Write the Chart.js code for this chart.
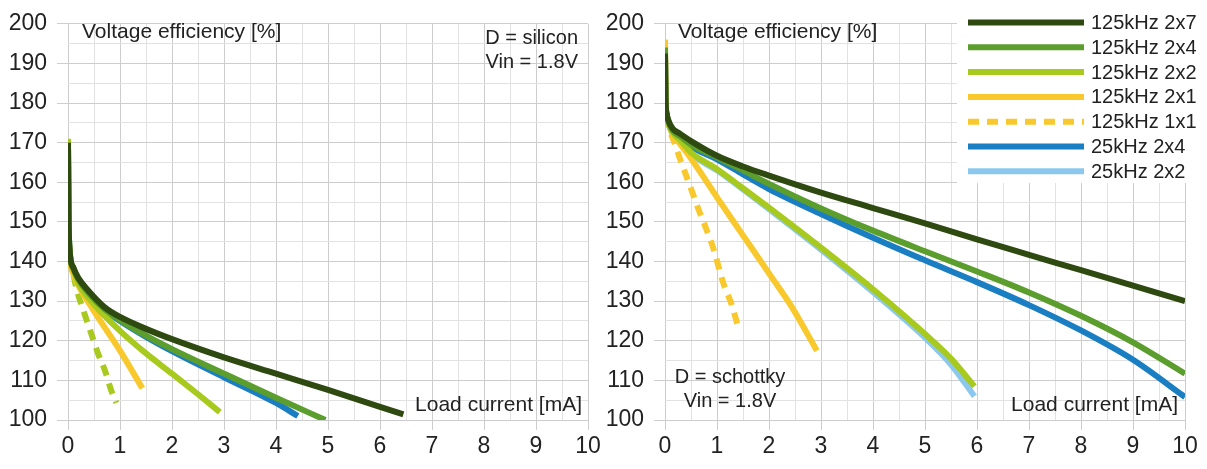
<!DOCTYPE html>
<html>
<head>
<meta charset="utf-8">
<script src="https://cdn.jsdelivr.net/npm/chart.js@4.4.0/dist/chart.umd.min.js"></script>
<style>
  body { margin: 0; background: #fff; width: 1207px; height: 469px; overflow: hidden; position: relative; }
  canvas { position: absolute; top: 0; }
  #siliconChart { left: 0; }
  #schottkyChart { left: 600px; }
</style>
</head>
<body>
<canvas id="siliconChart" width="607" height="469"></canvas>
<canvas id="schottkyChart" width="607" height="469"></canvas>
<script>
// Series names (legend order)
const seriesNames = ['125kHz 2x7', '125kHz 2x4', '125kHz 2x2', '125kHz 2x1', '125kHz 1x1', '25kHz 2x4', '25kHz 2x2'];

// ---- D = silicon, Vin = 1.8V (left chart) ----
const siX_2x7 = [0, 0.01, 0.03, 0.1, 0.2, 0.4, 0.7, 1, 1.5, 2, 3, 4, 5, 6, 6.45];
const siY_2x7 = [170, 152, 143, 138.5, 135.8, 132.5, 128.5, 126, 123, 120.4, 115.8, 111.7, 107.6, 103.3, 101.4];
const siX_2x4 = [0, 0.01, 0.03, 0.1, 0.2, 0.4, 0.7, 1, 1.5, 2, 3, 4, 4.95];
const siY_2x4 = [170, 152, 143, 138.5, 135.5, 132, 128, 125.2, 121.3, 117.9, 111.7, 105.6, 100];
const siX_2x2 = [0, 0.01, 0.03, 0.1, 0.2, 0.5, 1, 1.5, 2, 2.5, 2.92];
const siY_2x2 = [171, 152, 142.5, 138, 134.5, 129.2, 122.5, 116.8, 111.7, 106.5, 102];
const siX_2x1 = [0, 0.01, 0.03, 0.1, 0.2, 0.5, 0.75, 1, 1.43];
const siY_2x1 = [170, 151, 142, 137, 134, 127.5, 122.5, 117.5, 108];
const siX_1x1 = [0, 0.01, 0.03, 0.1, 0.16, 0.32, 0.45, 0.58, 0.71, 0.83, 0.93];
const siY_1x1 = [170, 151, 142, 137, 133.3, 126.7, 121.7, 116.7, 112.5, 107.5, 104.3];
const siX_25k2x4 = [0, 0.01, 0.03, 0.1, 0.2, 0.4, 0.7, 1, 1.5, 2, 3, 4, 4.42];
const siY_25k2x4 = [170, 152, 143, 138.3, 135.3, 131.8, 127.8, 125, 121, 117.4, 110.8, 104.3, 101];

// ---- D = schottky, Vin = 1.8V (right chart) ----
const scX_2x7 = [0, 0.01, 0.03, 0.06, 0.15, 0.26, 0.5, 1, 1.5, 2, 3, 4, 5, 6, 7, 8, 9, 10];
const scY_2x7 = [192.5, 181, 177.5, 175.8, 173.5, 172.5, 170.4, 166.7, 164, 161.7, 157.4, 153.5, 149.6, 145.6, 141.7, 137.8, 133.9, 130];
const scX_2x4 = [0, 0.01, 0.03, 0.06, 0.15, 0.3, 0.5, 1, 1.5, 2, 3, 4, 5, 6, 7, 8, 9, 10];
const scY_2x4 = [194, 181, 177.3, 175.5, 173, 171.5, 169.5, 166.3, 163, 159.6, 153.4, 147.8, 142.6, 137.5, 132.2, 126.3, 119.6, 111.7];
const scX_2x2 = [0, 0.01, 0.03, 0.06, 0.15, 0.3, 0.5, 1, 1.5, 2, 3, 4, 5, 5.5, 5.95];
const scY_2x2 = [193, 180, 176.5, 175, 172.5, 170.5, 167.5, 163.3, 158.5, 153.6, 143.5, 133, 121.7, 115.5, 108.5];
const scX_2x1 = [0, 0.01, 0.03, 0.06, 0.15, 0.3, 0.5, 1, 1.5, 2, 2.44, 2.92];
const scY_2x1 = [196, 180, 176, 175, 172, 169.5, 166, 156.2, 146.6, 137, 128.5, 117.5];
const scX_1x1 = [0, 0.01, 0.03, 0.1, 0.13, 0.3, 0.5, 0.64, 0.77, 0.93, 1.12, 1.28, 1.41];
const scY_1x1 = [196, 180, 176, 172.5, 171.7, 165.5, 158.4, 153.3, 149, 143.3, 134.6, 129.2, 123.3];
const scX_25k2x4 = [0, 0.01, 0.03, 0.06, 0.15, 0.3, 0.5, 1, 1.5, 2, 3, 4, 5, 6, 7, 8, 9, 10];
const scY_25k2x4 = [192, 180.5, 177, 175.3, 172.8, 171, 169, 165.8, 162, 158.3, 152, 146, 140.3, 134.8, 129, 122.6, 115.2, 105.8];
const scX_25k2x2 = [0, 0.01, 0.03, 0.06, 0.15, 0.3, 0.5, 1, 1.5, 2, 3, 4, 5, 5.5, 5.95];
const scY_25k2x2 = [192, 180, 176.3, 174.8, 172.3, 170.3, 167.2, 163, 158.2, 153.2, 143, 132.3, 120.8, 114, 106];

// axis settings
const xMin = 0, xMax = 10, xStep = 0.5;
const yMin = 100, yMax = 200, yStep = 5;

const colors = {
  dark: '#2f4a10',
  green: '#5b9e2d',
  lime: '#a8ca1e',
  yellow: '#f8c82c',
  blue: '#1a7ec2',
  sky: '#8cc8ee'
};

const FONT = "'Liberation Sans', Arial, sans-serif";

function pts(xs, ys) {
  return xs.map((x, i) => ({ x: x, y: ys[i] }));
}

function line(label, xs, ys, color, dashed) {
  return {
    label: label,
    data: pts(xs, ys),
    borderColor: color,
    backgroundColor: color,
    borderWidth: 6,
    borderDash: dashed ? [11, 8] : [],
    borderCapStyle: 'butt',
    pointRadius: 0,
    fill: false,
    cubicInterpolationMode: 'monotone'
  };
}

const isMajor = (v, step) => Math.abs(v / step - Math.round(v / step)) < 1e-6;

function makeScales(yWidth) {
  return {
    x: {
      type: 'linear', min: xMin, max: xMax,
      ticks: {
        stepSize: xStep, autoSkip: false, maxRotation: 0, padding: 3, color: '#222',
        font: { family: FONT, size: 23 },
        callback: v => isMajor(v, 1) ? v : ''
      },
      grid: {
        color: ctx => (ctx.tick && isMajor(ctx.tick.value, 1)) ? '#cdcdcd' : '#e2e2e2',
        tickColor: ctx => (ctx.tick && isMajor(ctx.tick.value, 1)) ? '#cdcdcd' : 'rgba(0,0,0,0)',
        tickLength: 10
      },
      border: { display: false },
      afterFit: s => { s.height = 49; }
    },
    y: {
      type: 'linear', min: yMin, max: yMax,
      ticks: {
        stepSize: yStep, autoSkip: false, padding: 10, color: '#222',
        font: { family: FONT, size: 23 },
        callback: v => isMajor(v, 10) ? v : ''
      },
      grid: {
        color: ctx => (ctx.tick && isMajor(ctx.tick.value, 10)) ? '#cdcdcd' : '#e2e2e2',
        tickColor: ctx => (ctx.tick && isMajor(ctx.tick.value, 10)) ? '#cdcdcd' : 'rgba(0,0,0,0)',
        tickLength: 11
      },
      border: { display: false },
      afterFit: s => { s.width = yWidth; }
    }
  };
}

// text written inside the plot
const notesPlugin = {
  id: 'notes',
  afterDatasetsDraw(chart, args, opts) {
    const ctx = chart.ctx;
    ctx.save();
    ctx.fillStyle = '#222';
    ctx.textBaseline = 'middle';
    opts.items.forEach(n => {
      ctx.font = n.size + 'px ' + FONT;
      ctx.textAlign = n.align;
      ctx.fillText(n.text, n.x, n.y);
    });
    ctx.restore();
  }
};

// legend box drawn over the plot (right chart)
const lineLegendPlugin = {
  id: 'lineLegend',
  afterDatasetsDraw(chart, args, opts) {
    if (!opts.show) return;
    const ctx = chart.ctx;
    ctx.save();
    ctx.fillStyle = '#fff';
    ctx.fillRect(opts.left, 0, chart.width - opts.left, opts.bottom);
    chart.data.datasets.forEach((ds, i) => {
      const y = opts.top + i * opts.row;
      ctx.strokeStyle = ds.borderColor;
      ctx.lineWidth = 6;
      ctx.lineCap = 'butt';
      ctx.setLineDash(ds.borderDash || []);
      ctx.beginPath();
      ctx.moveTo(opts.lineX0, y);
      ctx.lineTo(opts.lineX1, y);
      ctx.stroke();
      ctx.setLineDash([]);
      ctx.fillStyle = '#222';
      ctx.font = '20px ' + FONT;
      ctx.textAlign = 'left';
      ctx.textBaseline = 'middle';
      ctx.fillText(ds.label, opts.textX, y + 1);
    });
    ctx.restore();
  }
};

Chart.register(notesPlugin, lineLegendPlugin);

new Chart(document.getElementById('siliconChart'), {
  type: 'line',
  data: {
    datasets: [
      line(seriesNames[0], siX_2x7, siY_2x7, colors.dark),
      line(seriesNames[1], siX_2x4, siY_2x4, colors.green),
      line(seriesNames[2], siX_2x2, siY_2x2, colors.lime),
      line(seriesNames[3], siX_2x1, siY_2x1, colors.yellow),
      line(seriesNames[4], siX_1x1, siY_1x1, colors.lime, true),
      line(seriesNames[5], siX_25k2x4, siY_25k2x4, colors.blue)
    ]
  },
  options: {
    responsive: false,
    animation: false,
    layout: { padding: { top: 19, right: 19, left: 0, bottom: 0 } },
    scales: makeScales(68),
    plugins: {
      legend: { display: false },
      tooltip: { enabled: false },
      notes: {
        items: [
          { text: 'Voltage efficiency [%]', x: 82, y: 32, align: 'left', size: 21 },
          { text: 'D = silicon', x: 578, y: 38, align: 'right', size: 20 },
          { text: 'Vin = 1.8V', x: 578, y: 62, align: 'right', size: 20 },
          { text: 'Load current [mA]', x: 582, y: 405, align: 'right', size: 21 }
        ]
      },
      lineLegend: { show: false }
    }
  }
});

new Chart(document.getElementById('schottkyChart'), {
  type: 'line',
  data: {
    datasets: [
      line(seriesNames[0], scX_2x7, scY_2x7, colors.dark),
      line(seriesNames[1], scX_2x4, scY_2x4, colors.green),
      line(seriesNames[2], scX_2x2, scY_2x2, colors.lime),
      line(seriesNames[3], scX_2x1, scY_2x1, colors.yellow),
      line(seriesNames[4], scX_1x1, scY_1x1, colors.yellow, true),
      line(seriesNames[5], scX_25k2x4, scY_25k2x4, colors.blue),
      line(seriesNames[6], scX_25k2x2, scY_25k2x2, colors.sky)
    ]
  },
  options: {
    responsive: false,
    animation: false,
    layout: { padding: { top: 19, right: 22, left: 0, bottom: 0 } },
    scales: makeScales(65),
    plugins: {
      legend: { display: false },
      tooltip: { enabled: false },
      notes: {
        items: [
          { text: 'Voltage efficiency [%]', x: 78, y: 32, align: 'left', size: 21 },
          { text: 'D = schottky', x: 130, y: 377, align: 'center', size: 20 },
          { text: 'Vin = 1.8V', x: 130, y: 401, align: 'center', size: 20 },
          { text: 'Load current [mA]', x: 578, y: 405, align: 'right', size: 21 }
        ]
      },
      lineLegend: { show: true, left: 357, bottom: 183, top: 22.5, row: 24.8, lineX0: 368, lineX1: 484, textX: 491 }
    }
  }
});
</script>
</body>
</html>
